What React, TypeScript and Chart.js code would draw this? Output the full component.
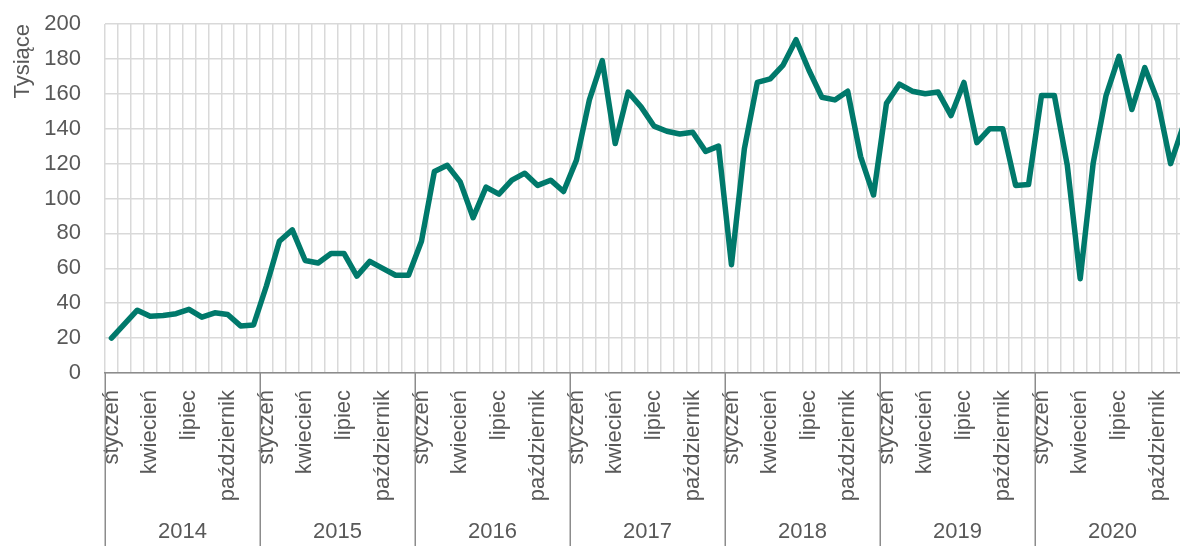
import React, { useEffect, useRef } from 'react';
import { Chart, registerables } from 'chart.js';

Chart.register(...registerables);

const YEARS = ['2014', '2015', '2016', '2017', '2018', '2019', '2020'];
const MONTHS = ['styczeń', 'luty', 'marzec', 'kwiecień', 'maj', 'czerwiec', 'lipiec', 'sierpień', 'wrzesień', 'październik', 'listopad', 'grudzień'];
const SHOWN_MONTHS = ['styczeń', 'kwiecień', 'lipiec', 'październik'];

const V2014 = [20, 28, 36, 32.5, 33, 34, 36.5, 32, 34.5, 33.5, 27, 27.5];
const V2015 = [50, 75.5, 82, 64.5, 63, 68.5, 68.5, 55.5, 64, 60, 56, 56];
const V2016 = [75.5, 115.5, 119, 109.5, 89, 106.5, 102.5, 110.5, 114.5, 107.5, 110.5, 104];
const V2017 = [122, 156.5, 179, 131.5, 161, 152.5, 141.5, 138.5, 137, 138, 127, 130];
const V2018 = [62, 128.5, 166.5, 168.5, 176.5, 191, 173.5, 158, 156.5, 161.5, 124, 102];
const V2019 = [154.5, 165.5, 161.5, 160, 161, 147.5, 166.5, 132, 140, 140, 107.5, 108];
const V2020 = [159, 159, 119, 54, 120, 159, 181.5, 151, 175, 156, 120, 142];

const Y_MIN = 0;
const Y_MAX = 200;
const Y_STEP = 20;
const Y_TITLE = 'Tysiące';

const FONT_FAMILY = "'Liberation Sans', Arial, sans-serif";
const TEXT_COLOR = '#595959';
const GRID_COLOR = '#d9d9d9';
const AXIS_COLOR = '#8c8c8c';
const LINE_COLOR = '#00796b';

const yearSeparators = {
  id: 'yearSeparators',
  afterDraw(chart: any) {
    const xs = chart.scales.x;
    const { ctx, chartArea } = chart;
    ctx.save();
    ctx.strokeStyle = AXIS_COLOR;
    ctx.lineWidth = 1.5;
    for (let k = 0; k <= YEARS.length; k++) {
      const px = Math.round(xs.getPixelForValue(k * MONTHS.length - 0.5)) + 0.25;
      ctx.beginPath();
      ctx.moveTo(px, chartArea.bottom);
      ctx.lineTo(px, chart.height);
      ctx.stroke();
    }
    ctx.restore();
  },
};

export default function App() {
  const ref = useRef<HTMLCanvasElement | null>(null);

  useEffect(() => {
    if (!ref.current) return;
    const labels = YEARS.flatMap(() => MONTHS);
    const values = [...V2014, ...V2015, ...V2016, ...V2017, ...V2018, ...V2019, ...V2020];
    const font = { family: FONT_FAMILY, size: 22 };

    const chart = new Chart(ref.current, {
      type: 'line',
      data: {
        labels,
        datasets: [
          {
            data: values,
            borderColor: LINE_COLOR,
            borderWidth: 5.5,
            pointRadius: 0,
            tension: 0,
            borderJoinStyle: 'round',
            borderCapStyle: 'round',
            fill: false,
          },
        ],
      },
      options: {
        responsive: false,
        animation: false,
        layout: { padding: { top: 24, right: 25, left: 0, bottom: 0 } },
        plugins: { legend: { display: false }, tooltip: { enabled: false } },
        scales: {
          x: {
            type: 'category',
            position: 'bottom',
            weight: 0,
            offset: true,
            grid: {
              color: GRID_COLOR,
              lineWidth: 1.5,
              offset: true,
              drawTicks: true,
              tickLength: 17,
              tickColor: 'transparent',
            },
            border: { display: true, color: AXIS_COLOR, width: 1.5 },
            ticks: {
              autoSkip: false,
              minRotation: 90,
              maxRotation: 90,
              padding: 0,
              font,
              color: TEXT_COLOR,
              callback: function (this: any, value: any) {
                const lab = this.getLabelForValue(value);
                return SHOWN_MONTHS.includes(lab) ? lab : '';
              },
            },
            afterFit: (s: any) => {
              s.height = 146;
            },
          },
          years: {
            type: 'category',
            labels: YEARS,
            position: 'bottom',
            weight: 1,
            offset: true,
            grid: { display: false, drawTicks: false },
            border: { display: false },
            ticks: { autoSkip: false, maxRotation: 0, padding: 0, font, color: TEXT_COLOR },
            afterFit: (s: any) => {
              s.height = 27;
            },
          },
          y: {
            min: Y_MIN,
            max: Y_MAX,
            position: 'left',
            grid: {
              color: GRID_COLOR,
              lineWidth: 1.5,
              drawTicks: true,
              tickLength: 24,
              tickColor: 'transparent',
            },
            border: { display: false },
            ticks: { stepSize: Y_STEP, padding: 0, font, color: TEXT_COLOR },
            title: {
              display: true,
              text: Y_TITLE,
              align: 'end',
              font,
              color: TEXT_COLOR,
              padding: { top: 9.8, bottom: 0 },
            },
            afterFit: (s: any) => {
              s.width = 105;
            },
          },
        },
      },
      plugins: [yearSeparators],
    } as any);

    return () => chart.destroy();
  }, []);

  return (
    <canvas
      ref={ref}
      width={1215}
      height={546}
      style={{ position: 'fixed', left: 0, top: 0, display: 'block', width: 1215, height: 546 }}
    />
  );
}
